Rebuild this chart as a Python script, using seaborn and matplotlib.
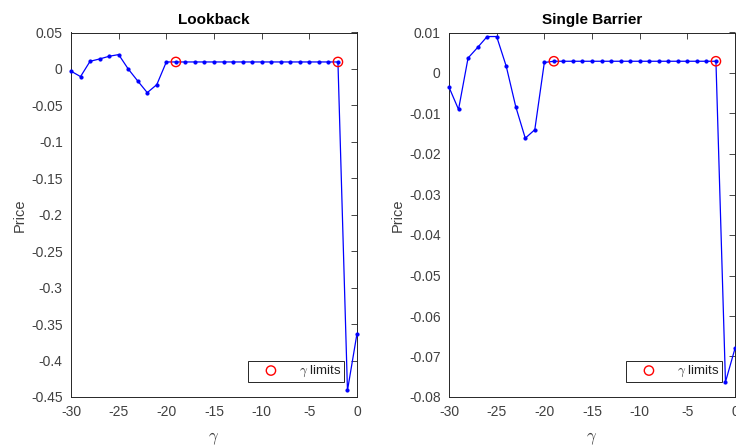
import matplotlib
matplotlib.use("Agg")
import matplotlib.pyplot as plt
from matplotlib.ticker import FuncFormatter, MultipleLocator
import seaborn as sns

# gamma grid and priced values for each contract
gamma = list(range(-30, 1))
lookback = [-0.003, -0.0105, 0.0105, 0.0137, 0.0174, 0.0197, 0.0, -0.0165,
            -0.0325, -0.0215, 0.0096] + [0.0096] * 18 + [-0.441, -0.363]
barrier = [-0.0035, -0.009, 0.0037, 0.0063, 0.009, 0.009, 0.0017, -0.0083,
           -0.0161, -0.014, 0.0026] + [0.0029] * 18 + [-0.0763, -0.068]

# admissible gamma range endpoints
limit_gamma = [-19, -2]
lookback_limits = [0.0096, 0.0096]
barrier_limits = [0.0029, 0.0029]

titles = ["Lookback", "Single Barrier"]
ylims = [(-0.45, 0.05), (-0.08, 0.01)]
ysteps = [0.05, 0.01]

sns.set_theme(style="white")
plt.rcParams["font.family"] = ["Liberation Sans", "DejaVu Sans"]
plt.rcParams["axes.unicode_minus"] = False
plt.rcParams["mathtext.fontset"] = "cm"

fig = plt.figure(figsize=(7.36, 4.46), dpi=100)
positions = [[71 / 736, 49 / 446, 286 / 736, 364.5 / 446],
             [449 / 736, 49 / 446, 286 / 736, 364.5 / 446]]

axis_col = "#262626"
label_col = "#404040"
series = [(lookback, lookback_limits), (barrier, barrier_limits)]

for pos, (vals, lims), title, ylim, ystep in zip(positions, series, titles, ylims, ysteps):
    ax = fig.add_axes(pos)
    sns.lineplot(x=gamma, y=vals, ax=ax, color="blue", marker=".",
                 markersize=4.5, markeredgecolor="blue", linewidth=0.9,
                 clip_on=False, zorder=3)
    sns.scatterplot(x=limit_gamma, y=lims, ax=ax, marker="o", s=45,
                    facecolor="none", edgecolor="red", linewidth=1.0,
                    label=r"$\gamma$ limits", clip_on=False, zorder=4)
    ax.set_xlim(-30, 0)
    ax.set_ylim(*ylim)
    ax.xaxis.set_major_locator(MultipleLocator(5))
    ax.yaxis.set_major_locator(MultipleLocator(ystep))
    ax.yaxis.set_major_formatter(FuncFormatter(lambda v, p: "%g" % round(v, 4)))
    ax.tick_params(direction="in", top=True, right=True, length=4, width=0.6,
                   colors=axis_col, labelcolor=label_col, labelsize=10)
    ax.tick_params(axis="x", pad=6)
    ax.tick_params(axis="y", pad=6)
    for sp in ax.spines.values():
        sp.set_color(axis_col)
        sp.set_linewidth(0.7)
        sp.set_visible(True)
    ax.set_title(title, fontsize=11, fontweight="bold", color="black", pad=6)
    ax.set_xlabel(r"$\gamma$", fontsize=12, color=label_col, labelpad=8)
    ax.set_ylabel("Price", fontsize=10.5, color=label_col, labelpad=3)
    leg = ax.legend(loc="lower right", bbox_to_anchor=(0.955, 0.04),
                    frameon=True, fancybox=False, framealpha=1,
                    edgecolor=axis_col, fontsize=9.5, handlelength=3.0,
                    handletextpad=0.6, borderpad=0.25, borderaxespad=0)
    leg.get_frame().set_linewidth(0.7)
    for t in leg.get_texts():
        t.set_color("#202020")

fig.savefig("out.png", dpi=100, facecolor="white")
